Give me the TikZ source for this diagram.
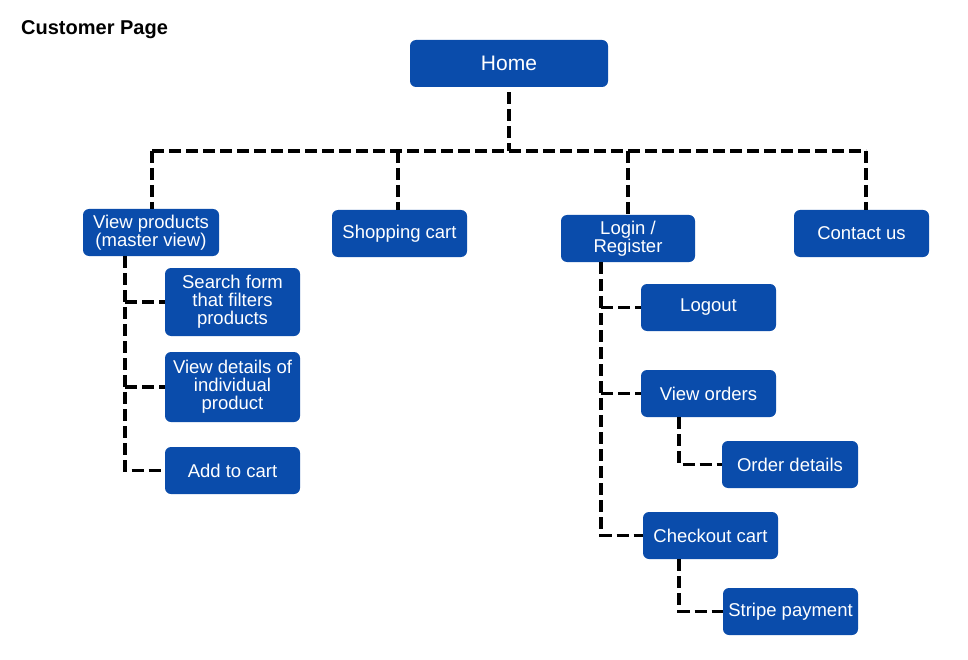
\documentclass[tikz,border=0pt]{standalone}
\usepackage{fontspec}
\setmainfont{Liberation Sans}
\definecolor{myblue}{HTML}{0A4CAB}
\tikzset{
  box/.style={rectangle, rounded corners=6pt, fill=myblue, text=white, align=center,
    font=\fontsize{18.5}{18}\selectfont, inner sep=0pt},
  conn/.style={draw=black, line width=3.3pt, dash pattern=on 12pt off 5pt},
}
\begin{document}
\begin{tikzpicture}[x=1pt,y=-1pt]
\useasboundingbox[fill=white] (0,0) rectangle (968,660);
\node[anchor=base west, inner sep=0pt, font=\bfseries\fontsize{20}{20}\selectfont] (title) at (21,35) {Customer Page};

\node[box, minimum width=198, minimum height=47, font=\fontsize{21}{21}\selectfont] (home) at (509,63.5) {Home};
\node[box, minimum width=136, minimum height=47] (vp) at (151,232.5) {View products\\(master view)};
\node[box, minimum width=135, minimum height=47] (sc) at (399.5,233.5) {Shopping cart};
\node[box, minimum width=134, minimum height=47] (lr) at (628,238.5) {Login /\\Register};
\node[box, minimum width=135, minimum height=47] (cu) at (861.5,233.5) {Contact us};

\node[box, minimum width=135, minimum height=68] (sf) at (232.5,302) {Search form\\that filters\\products};
\node[box, minimum width=135, minimum height=70] (vd) at (232.5,387) {View details of\\individual\\product};
\node[box, minimum width=135, minimum height=47] (ac) at (232.5,470.5) {Add to cart};

\node[box, minimum width=135, minimum height=47] (lo) at (708.5,307.5) {Logout};
\node[box, minimum width=135, minimum height=47] (vo) at (708.5,393.5) {View orders};
\node[box, minimum width=136, minimum height=47] (od) at (790,464.5) {Order details};
\node[box, minimum width=135, minimum height=47] (cc) at (710.5,535.5) {Checkout cart};
\node[box, minimum width=135, minimum height=47] (sp) at (790.5,611.5) {Stripe payment};

\coordinate (bus) at (509,151);
\coordinate (cuTop) at ([xshift=4.5pt]cu.north);
\coordinate (vpTop) at ([xshift=1pt]vp.north);
\coordinate (scTop) at ([xshift=-1.5pt]sc.north);
% top level
\draw[conn] ([yshift=-5pt]home.south) -- (bus);
\draw[conn] (vpTop |- bus) -- (cuTop |- bus);
\draw[conn] (vpTop |- bus) -- (vpTop);
\draw[conn] (scTop |- bus) -- (scTop);
\draw[conn] (lr.north |- bus) -- (lr.north);
\draw[conn] (cuTop |- bus) -- (cuTop);

% view products branch
\coordinate (vpS) at ([xshift=-26pt]vp.south);
\draw[conn] (vpS) |- (ac.west);
\draw[conn] (vpS |- sf.west) -- (sf.west);
\draw[conn] (vpS |- vd.west) -- (vd.west);

% login branch
\coordinate (lrS) at ([xshift=-27pt]lr.south);
\draw[conn] (lrS) |- (cc.west);
\draw[conn] (lrS |- lo.west) -- (lo.west);
\draw[conn] (lrS |- vo.west) -- (vo.west);

% view orders -> order details
\coordinate (voS) at ([xshift=-29.5pt]vo.south);
\draw[conn] (voS) |- (od.west);
% checkout -> stripe
\coordinate (ccS) at ([xshift=-31.5pt]cc.south);
\draw[conn] (ccS) |- (sp.west);
\end{tikzpicture}
\end{document}
